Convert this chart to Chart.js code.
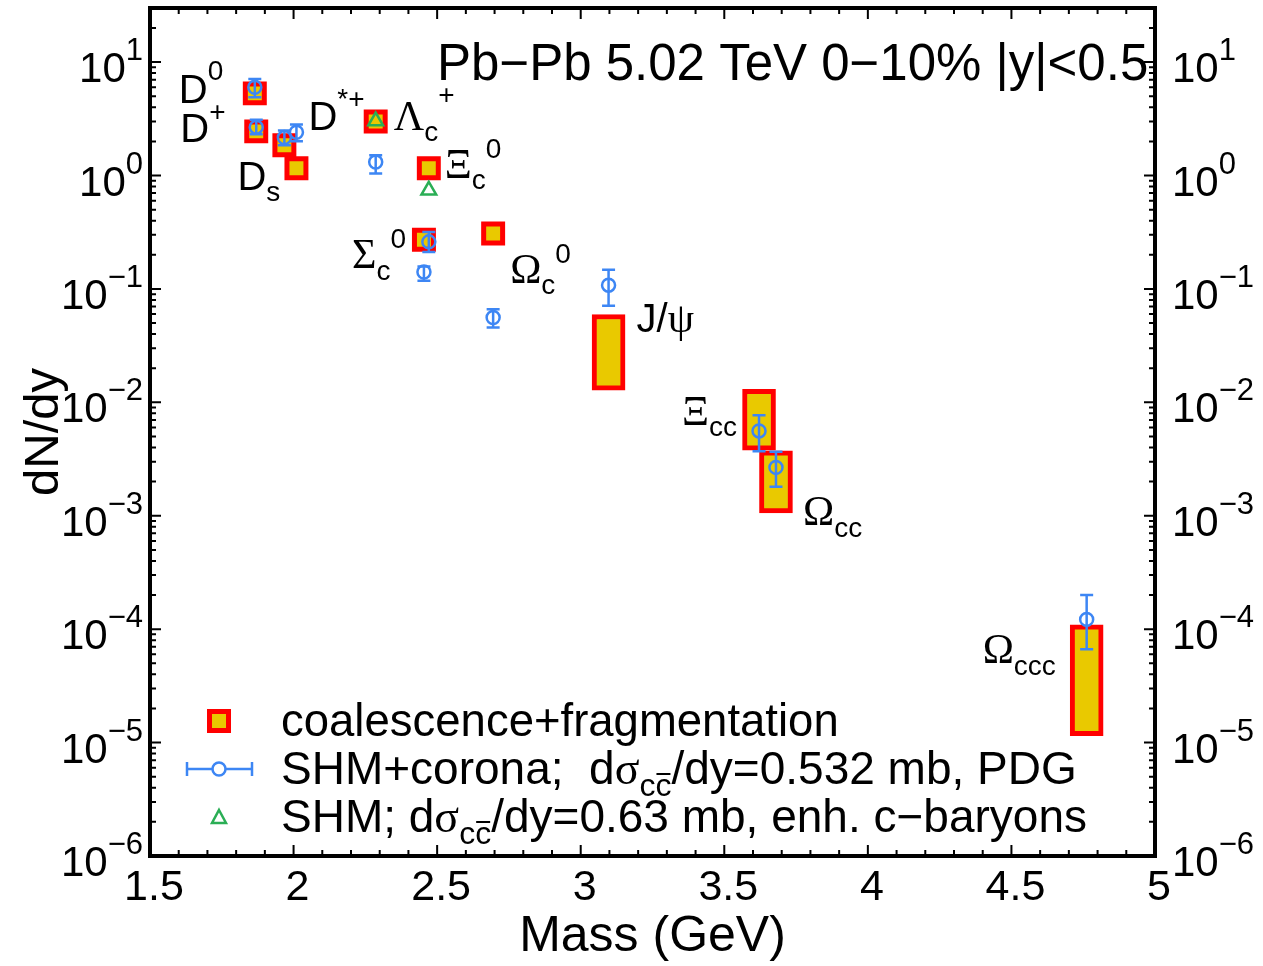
<!DOCTYPE html>
<html>
<head>
<meta charset="utf-8">
<title>Charm hadron yields, Pb-Pb 5.02 TeV</title>
<script src="https://cdn.jsdelivr.net/npm/chart.js@4.4.1/dist/chart.umd.min.js"></script>
<style>
  html, body { margin: 0; padding: 0; background: #ffffff; }
  #wrap { width: 1263px; height: 966px; }
</style>
</head>
<body>
<div id="wrap"><canvas id="c" width="1263" height="966"></canvas></div>
<script>
// ---- data: dN/dy of charm hadrons vs mass (GeV) ----
// coalescence+fragmentation, point-like entries
const coalNames = ['D0', 'D+', 'Ds', 'D*+', 'Lc', 'Xc0', 'Sc0', 'Oc0'];
const coalMass  = [1.865, 1.870, 1.968, 2.010, 2.286, 2.471, 2.454, 2.695];
const coalYield = [5.3, 2.45, 1.85, 1.16, 3.0, 1.16, 0.272, 0.308];

// coalescence+fragmentation, entries given as a band (low..high)
const bandNames = ['Jpsi', 'Xcc', 'Occ', 'Occc'];
const bandMass  = [3.097, 3.621, 3.680, 4.762];
const bandLow   = [0.0128, 0.00379, 0.00106, 1.15e-5];
const bandHigh  = [0.0595, 0.0130, 0.00374, 1.09e-4];

// SHM+corona, dsigma_cc/dy = 0.532 mb, PDG
const shmMass  = [1.865, 1.870, 1.968, 2.010, 2.286, 2.471, 2.454, 2.695, 3.097, 3.621, 3.680, 4.762];
const shmYield = [6.0, 2.67, 2.16, 2.41, 1.315, 0.26, 0.141, 0.056, 0.108, 0.0056, 0.00267, 1.22e-4];
const shmLow   = [4.9, 2.31, 1.85, 2.01, 1.04, 0.212, 0.118, 0.0457, 0.071, 0.0037, 0.0018, 6.65e-5];
const shmHigh  = [7.1, 3.11, 2.50, 2.82, 1.51, 0.318, 0.158, 0.0662, 0.148, 0.0077, 0.00366, 2.0e-4];

// SHM, dsigma_cc/dy = 0.63 mb, enhanced charm baryons
const enhMass  = [2.286, 2.471];
const enhYield = [3.02, 0.741];

// axis ticks
const xTickValues = [1.5, 2, 2.5, 3, 3.5, 4, 4.5, 5];
const xTickLabels = ['1.5', '2', '2.5', '3', '3.5', '4', '4.5', '5'];
const yDecades    = [-6, -5, -4, -3, -2, -1, 0, 1];

// ---- styling ----
const SANS  = '"Liberation Sans", Arial, Helvetica, sans-serif';
const SERIF = '"Liberation Serif", "Times New Roman", serif';
const RED = '#ff0000', YELLOW = '#e9c900', BLUE = '#3d86f4', GREEN = '#2aae55';

const fontMain = '40px ' + SANS;
const fontGreek = '42px ' + SERIF;
const fontScript = '28px ' + SANS;

// particle labels, placed relative to the coalescence mark of each particle
const particleLabels = [
  { of: 'D0',   dx: -76, dy: 10, segs: [{ t: 'D', f: fontMain }, { t: '0', f: fontScript, dy: -23 }] },
  { of: 'D+',   dx: -76, dy: 11, segs: [{ t: 'D', f: fontMain }, { t: '+', f: fontScript, dy: -21 }] },
  { of: 'Ds',   dx: -47, dy: 45, segs: [{ t: 'D', f: fontMain }, { t: 's', f: fontScript, dy: 11 }] },
  { of: 'D*+',  dx: 12,  dy: -38, segs: [{ t: 'D', f: fontMain }, { t: '*+', f: fontScript, dy: -22 }] },
  { of: 'Lc',   dx: 18,  dy: 9,  segs: [{ t: 'Λ', f: fontGreek }, { t: 'c', f: fontScript, dy: 11 }, { t: '+', f: fontScript, dy: -26 }] },
  { of: 'Xc0',  dx: 16,  dy: 10, segs: [{ t: 'Ξ', f: fontGreek }, { t: 'c', f: fontScript, dy: 11 }, { t: '0', f: fontScript, dy: -20 }] },
  { of: 'Sc0',  dx: -72, dy: 28, segs: [{ t: 'Σ', f: fontGreek }, { t: 'c', f: fontScript, dy: 12 }, { t: '0', f: fontScript, dy: -20 }] },
  { of: 'Oc0',  dx: 17,  dy: 49, segs: [{ t: 'Ω', f: fontGreek }, { t: 'c', f: fontScript, dy: 11 }, { t: '0', f: fontScript, dy: -20 }] },
  { of: 'Jpsi', dx: 28,  dy: -20, segs: [{ t: 'J/', f: fontMain }, { t: 'ψ', f: fontGreek }] },
  { of: 'Xcc',  dx: -77, dy: 5,  segs: [{ t: 'Ξ', f: fontGreek }, { t: 'cc', f: fontScript, dy: 11 }] },
  { of: 'Occ',  dx: 27,  dy: 43, segs: [{ t: 'Ω', f: fontGreek }, { t: 'cc', f: fontScript, dy: 12 }] },
  { of: 'Occc', dx: -104, dy: -17, segs: [{ t: 'Ω', f: fontGreek }, { t: 'ccc', f: fontScript, dy: 12 }] }
];

// draws a run of text segments left to right; returns end x
function drawRich(ctx, x, y, segs) {
  let cx = x;
  for (const s of segs) {
    ctx.font = s.f;
    const yy = y + (s.dy || 0);
    if (s.overSecond) {
      // "cc" with a bar over the second c
      const w1 = ctx.measureText(s.t[0]).width;
      const w2 = ctx.measureText(s.t[1]).width;
      ctx.fillText(s.t, cx, yy);
      ctx.save();
      ctx.lineWidth = 2;
      ctx.beginPath();
      ctx.moveTo(cx + w1 + 1, yy - s.barUp);
      ctx.lineTo(cx + w1 + w2 - 1, yy - s.barUp);
      ctx.stroke();
      ctx.restore();
      cx += w1 + w2;
    } else {
      ctx.fillText(s.t, cx, yy);
      cx += ctx.measureText(s.t).width;
    }
  }
  return cx;
}

function anchorOf(chart, name) {
  const xs = chart.scales.x, ys = chart.scales.y;
  let i = coalNames.indexOf(name);
  if (i >= 0) return [xs.getPixelForValue(coalMass[i]), ys.getPixelForValue(coalYield[i])];
  i = bandNames.indexOf(name);
  return [xs.getPixelForValue(bandMass[i]), ys.getPixelForValue(Math.sqrt(bandLow[i] * bandHigh[i]))];
}

// vertical error bars of the SHM+corona points
const errorBars = {
  id: 'errorBars',
  afterDatasetDraw(chart, args) {
    if (args.index !== 2) return;
    const { ctx } = chart;
    const xs = chart.scales.x, ys = chart.scales.y;
    ctx.save();
    ctx.strokeStyle = BLUE;
    ctx.lineWidth = 2.5;
    ctx.beginPath();
    for (let i = 0; i < shmMass.length; i++) {
      const px = xs.getPixelForValue(shmMass[i]);
      const pLo = ys.getPixelForValue(shmLow[i]);
      const pHi = ys.getPixelForValue(shmHigh[i]);
      ctx.moveTo(px, pLo); ctx.lineTo(px, pHi);
      ctx.moveTo(px - 6.5, pLo); ctx.lineTo(px + 6.5, pLo);
      ctx.moveTo(px - 6.5, pHi); ctx.lineTo(px + 6.5, pHi);
    }
    ctx.stroke();
    ctx.restore();
  }
};

// frame, inward ticks, tick labels, titles, particle labels and legend
const decorations = {
  id: 'decorations',
  afterDraw(chart) {
    const { ctx, chartArea: a } = chart;
    const xs = chart.scales.x, ys = chart.scales.y;
    ctx.save();
    ctx.fillStyle = '#000';
    ctx.strokeStyle = '#000';

    // ticks
    ctx.lineWidth = 2;
    ctx.beginPath();
    for (let i = 0; i <= 35; i++) {
      const px = xs.getPixelForValue(1.5 + i * 0.1);
      const len = (i % 5 === 0) ? 11 : 6;
      ctx.moveTo(px, a.bottom); ctx.lineTo(px, a.bottom - len);
      ctx.moveTo(px, a.top); ctx.lineTo(px, a.top + len);
    }
    for (const d of yDecades) {
      for (let k = 1; k <= 9; k++) {
        const v = k * Math.pow(10, d);
        if (v > ys.max * 1.0001) break;
        const py = ys.getPixelForValue(v);
        const len = (k === 1) ? 11 : 6;
        ctx.moveTo(a.left, py); ctx.lineTo(a.left + len, py);
        ctx.moveTo(a.right, py); ctx.lineTo(a.right - len, py);
      }
    }
    ctx.stroke();

    // frame
    ctx.lineWidth = 4;
    ctx.strokeRect(a.left, a.top, a.right - a.left, a.bottom - a.top);

    // x tick labels
    ctx.textBaseline = 'alphabetic';
    ctx.textAlign = 'center';
    ctx.font = '43px ' + SANS;
    xTickValues.forEach((v, i) => {
      ctx.fillText(xTickLabels[i], xs.getPixelForValue(v) + 4, a.bottom + 44);
    });

    // y tick labels, both sides
    ctx.textAlign = 'left';
    const baseFont = '42px ' + SANS, supFont = '31px ' + SANS;
    for (const d of yDecades) {
      const py = ys.getPixelForValue(Math.pow(10, d));
      const exp = d < 0 ? '\u2212' + (-d) : String(d);
      ctx.font = baseFont; const wb = ctx.measureText('10').width;
      ctx.font = supFont; const ws = ctx.measureText(exp).width;
      const segs = [{ t: '10', f: baseFont }, { t: exp, f: supFont, dy: -22 }];
      drawRich(ctx, a.left - 7 - wb - ws, py + 20, segs);
      drawRich(ctx, a.right + 17, py + 20, segs);
    }

    // axis titles
    ctx.font = '50px ' + SANS;
    ctx.textAlign = 'center';
    ctx.fillText('Mass (GeV)', (a.left + a.right) / 2, 951);
    ctx.save();
    ctx.translate(58, 432);
    ctx.rotate(-Math.PI / 2);
    ctx.font = '49px ' + SANS;
    ctx.fillText('dN/dy', 0, 0);
    ctx.restore();

    // header
    ctx.textAlign = 'left';
    ctx.font = '51px ' + SANS;
    ctx.fillText('Pb\u2212Pb 5.02 TeV 0\u221210% |y|<0.5', 437, 80);

    // particle labels
    for (const L of particleLabels) {
      const [ax, ay] = anchorOf(chart, L.of);
      drawRich(ctx, ax + L.dx, ay + L.dy, L.segs);
    }

    // legend
    const lx = 219, tx = 281;
    const rows = [721, 769, 818];
    // coalescence symbol
    ctx.fillStyle = RED;
    ctx.fillRect(lx - 12, rows[0] - 12, 24, 24);
    ctx.fillStyle = YELLOW;
    ctx.fillRect(lx - 7, rows[0] - 7, 14, 14);
    // SHM+corona symbol
    ctx.strokeStyle = BLUE;
    ctx.lineWidth = 2.5;
    ctx.beginPath();
    ctx.moveTo(187, rows[1]); ctx.lineTo(lx - 6.5, rows[1]);
    ctx.moveTo(lx + 6.5, rows[1]); ctx.lineTo(252, rows[1]);
    ctx.moveTo(187, rows[1] - 7); ctx.lineTo(187, rows[1] + 7);
    ctx.moveTo(252, rows[1] - 7); ctx.lineTo(252, rows[1] + 7);
    ctx.stroke();
    ctx.beginPath();
    ctx.arc(lx, rows[1], 6.5, 0, Math.PI * 2);
    ctx.stroke();
    // SHM enhanced symbol
    ctx.strokeStyle = GREEN;
    ctx.lineWidth = 2.5;
    ctx.beginPath();
    ctx.moveTo(lx, rows[2] - 8);
    ctx.lineTo(lx + 7, rows[2] + 5);
    ctx.lineTo(lx - 7, rows[2] + 5);
    ctx.closePath();
    ctx.stroke();

    ctx.fillStyle = '#000';
    ctx.strokeStyle = '#000';
    const lf = '46px ' + SANS, lg = '46px ' + SERIF, ls = '32px ' + SANS;
    drawRich(ctx, tx, 736, [{ t: 'coalescence+fragmentation', f: '45.5px ' + SANS }]);
    drawRich(ctx, tx, 784, [
      { t: 'SHM+corona;  d', f: lf }, { t: 'σ', f: lg },
      { t: 'cc', f: ls, dy: 12, overSecond: true, barUp: 22 },
      { t: '/dy=0.532 mb, PDG', f: lf }
    ]);
    drawRich(ctx, tx, 832, [
      { t: 'SHM; d', f: lf }, { t: 'σ', f: lg },
      { t: 'cc', f: ls, dy: 12, overSecond: true, barUp: 22 },
      { t: '/dy=0.63 mb, enh. c\u2212baryons', f: lf }
    ]);

    ctx.restore();
  }
};

const hidden = { display: false };

new Chart(document.getElementById('c'), {
  type: 'scatter',
  data: {
    datasets: [
      {
        // SHM, enhanced charm baryons (top-most)
        type: 'scatter',
        order: 0,
        data: enhMass.map((m, i) => ({ x: m, y: enhYield[i] })),
        pointStyle: 'triangle',
        pointRadius: 8.5,
        pointBorderWidth: 2.5,
        pointBorderColor: GREEN,
        pointBackgroundColor: 'rgba(0,0,0,0)'
      },
      {
        // placeholder keeps dataset indices stable
        type: 'scatter',
        order: 1,
        data: []
      },
      {
        // SHM+corona
        type: 'scatter',
        order: 2,
        data: shmMass.map((m, i) => ({ x: m, y: shmYield[i] })),
        pointStyle: 'circle',
        pointRadius: 6.5,
        pointBorderWidth: 2.5,
        pointBorderColor: BLUE,
        pointBackgroundColor: 'rgba(0,0,0,0)'
      },
      {
        // coalescence+fragmentation, point-like
        type: 'scatter',
        order: 3,
        data: coalMass.map((m, i) => ({ x: m, y: coalYield[i] })),
        pointStyle: 'rect',
        pointRadius: 13.4,
        pointBorderWidth: 5,
        pointBorderColor: RED,
        pointBackgroundColor: YELLOW
      },
      {
        // coalescence+fragmentation, bands
        type: 'bar',
        order: 4,
        data: bandMass.map((m, i) => ({ x: m, y: [bandLow[i], bandHigh[i]] })),
        barThickness: 33,
        borderWidth: 5,
        borderSkipped: false,
        borderColor: RED,
        backgroundColor: YELLOW
      }
    ]
  },
  options: {
    responsive: false,
    animation: false,
    events: [],
    layout: { autoPadding: false, padding: { top: 8, left: 0, right: 0, bottom: 0 } },
    plugins: { legend: hidden, tooltip: { enabled: false }, title: hidden },
    scales: {
      x: {
        type: 'linear', position: 'bottom', min: 1.5, max: 5, offset: false, bounds: 'data',
        ticks: { display: false }, grid: { display: false }, border: { display: false },
        afterFit: (s) => { s.height = 110; }
      },
      y: {
        type: 'logarithmic', position: 'left', min: 1e-6, max: 30, bounds: 'data',
        ticks: { display: false }, grid: { display: false }, border: { display: false },
        afterFit: (s) => { s.width = 150; }
      },
      y2: {
        type: 'logarithmic', position: 'right', min: 1e-6, max: 30, bounds: 'data',
        ticks: { display: false }, grid: { display: false }, border: { display: false },
        afterFit: (s) => { s.width = 108; }
      }
    }
  },
  plugins: [errorBars, decorations]
});
</script>
</body>
</html>
